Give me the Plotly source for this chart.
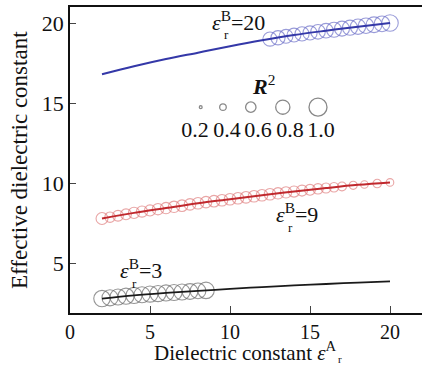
import plotly.graph_objects as go

# ---- data ----
# lines (eps_r^B = 20, 9, 3)
line_x = [2, 4, 6, 8, 10, 12, 14, 16, 18, 20]
blue_line_y = [16.8, 17.3, 17.75, 18.15, 18.55, 18.92, 19.25, 19.52, 19.77, 20.0]
red_line_y = [7.8, 8.15, 8.45, 8.75, 9.0, 9.25, 9.48, 9.7, 9.9, 10.05]
black_line_y = [2.8, 3.0, 3.15, 3.28, 3.4, 3.52, 3.62, 3.71, 3.8, 3.88]

# markers (size encodes R^2)
blue_x = [12.5, 13, 13.5, 14, 14.5, 15, 15.5, 16, 16.5, 17, 17.5, 18, 18.5, 19, 19.5, 20]
blue_y = [19.0, 19.08, 19.17, 19.25, 19.32, 19.38, 19.45, 19.52, 19.58, 19.65, 19.71, 19.77, 19.83, 19.89, 19.95, 20.0]
blue_r2 = [0.80, 0.80, 0.78, 0.78, 0.80, 0.80, 0.82, 0.82, 0.84, 0.84, 0.85, 0.86, 0.87, 0.88, 0.88, 0.92]

red_x = [2, 2.5, 3, 3.5, 4, 4.5, 5, 5.5, 6, 6.5, 7, 7.5, 8, 8.5, 9, 9.5, 10, 10.5, 11, 11.5,
         12, 12.5, 13, 13.5, 14, 14.5, 15, 15.5, 16, 16.5, 17, 17.7, 18.4, 19.2, 20]
red_y = [7.8, 7.88, 7.97, 8.06, 8.15, 8.23, 8.3, 8.38, 8.45, 8.53, 8.6, 8.68, 8.75, 8.82, 8.88, 8.94,
         9.0, 9.06, 9.12, 9.19, 9.25, 9.31, 9.37, 9.43, 9.48, 9.54, 9.59, 9.65, 9.7, 9.75, 9.8,
         9.87, 9.92, 9.98, 10.05]
red_r2 = [0.68, 0.6, 0.62, 0.62, 0.64, 0.64, 0.64, 0.65, 0.65, 0.65, 0.66, 0.66, 0.66, 0.66, 0.66, 0.66,
          0.66, 0.66, 0.66, 0.66, 0.66, 0.66, 0.65, 0.65, 0.64, 0.63, 0.62, 0.6, 0.58, 0.55, 0.52,
          0.48, 0.45, 0.5, 0.45]

black_x = [2, 2.5, 3, 3.5, 4, 4.5, 5, 5.5, 6, 6.5, 7, 7.5, 8, 8.5]
black_y = [2.8, 2.85, 2.9, 2.95, 3.0, 3.04, 3.08, 3.11, 3.15, 3.18, 3.21, 3.24, 3.28, 3.31]
black_r2 = [0.92, 0.9, 0.9, 0.9, 0.9, 0.9, 0.9, 0.9, 0.9, 0.9, 0.9, 0.88, 0.88, 0.92]

legend_r2 = [0.2, 0.4, 0.6, 0.8, 1.0]
legend_labels = ["0.2", "0.4", "0.6", "0.8", "1.0"]
legend_x = [8.17, 9.56, 11.3, 13.3, 15.5]
legend_y = 14.75
legend_label_x = [7.81, 9.81, 11.75, 13.75, 15.69]
legend_label_y = 13.2

x_ticks = [0, 5, 10, 15, 20]
y_ticks = [5, 10, 15, 20]


def sz(r2):
    return [19 * v - 1 for v in r2]


FONT = "Liberation Serif"
TXT = "#111111"
fig = go.Figure()

# markers
fig.add_trace(go.Scatter(x=blue_x, y=blue_y, mode="markers",
                         marker=dict(symbol="circle-open", size=sz(blue_r2), color="#6f72c9",
                                     line=dict(width=1.1)), showlegend=False))
fig.add_trace(go.Scatter(x=red_x, y=red_y, mode="markers",
                         marker=dict(symbol="circle-open", size=sz(red_r2), color="#e08080",
                                     line=dict(width=1.1)), showlegend=False))
fig.add_trace(go.Scatter(x=black_x, y=black_y, mode="markers",
                         marker=dict(symbol="circle-open", size=sz(black_r2), color="#6a6a6a",
                                     line=dict(width=1.1)), showlegend=False))
# lines
fig.add_trace(go.Scatter(x=line_x, y=blue_line_y, mode="lines", line=dict(color="#3438a8", width=2, shape="spline"),
                         showlegend=False))
fig.add_trace(go.Scatter(x=line_x, y=red_line_y, mode="lines", line=dict(color="#c0282d", width=2, shape="spline"),
                         showlegend=False))
fig.add_trace(go.Scatter(x=line_x, y=black_line_y, mode="lines", line=dict(color="#1a1a1a", width=1.8, shape="spline"),
                         showlegend=False))
# size legend
fig.add_trace(go.Scatter(x=legend_x, y=[legend_y] * len(legend_x), mode="markers",
                         marker=dict(symbol="circle-open", size=sz(legend_r2), color="#555555",
                                     line=dict(width=1.3)), showlegend=False))
fig.add_trace(go.Scatter(x=legend_label_x, y=[legend_label_y] * len(legend_label_x), mode="text",
                         text=legend_labels, textfont=dict(family=FONT, size=22, color=TXT),
                         showlegend=False))

ann = []
def label(x, y, txt, size=22, xanchor="left"):
    ann.append(dict(x=x, y=y, xref="paper", yref="paper", text=txt, showarrow=False,
                    xanchor=xanchor, yanchor="middle", font=dict(family=FONT, size=size, color=TXT)))

def px(xp):
    return (xp - 70) / 352.0

def py(yp):
    return (313 - yp) / 306.0

# R^2 header
label(px(263), py(85), "<i><b>R</b></i><sup>2</sup>", size=22, xanchor="center")
# series labels
label(px(210), py(21), "<i>ε</i><sup>B</sup>=20")
label(px(222), py(34), "r", size=13)
label(px(274), py(213), "<i>ε</i><sup>B</sup>=9")
label(px(286), py(227), "r", size=13)
label(px(118), py(269), "<i>ε</i><sup>B</sup>=3")
label(px(130), py(283), "r", size=13)
# axis titles
label(px(152), py(351), "Dielectric constant <i>ε</i><sup>A</sup>", size=21)
label(px(336), py(359), "r", size=11)
ann.append(dict(x=px(19), y=py(160), xref="paper", yref="paper",
                text="Effective dielectric constant", textangle=-90, showarrow=False,
                xanchor="center", yanchor="middle", font=dict(family=FONT, size=23, color=TXT)))

fig.update_layout(
    width=422, height=366,
    margin=dict(l=70, r=0, t=7, b=53),
    plot_bgcolor="white", paper_bgcolor="white",
    annotations=ann,
    xaxis=dict(range=[0, 22], tickvals=x_ticks, ticks="inside", ticklen=7, tickwidth=1.3,
               showline=True, linecolor="#111", linewidth=1.6, mirror=True, showgrid=False,
               zeroline=False, tickfont=dict(family=FONT, size=20, color=TXT)),
    yaxis=dict(range=[1.9, 21.0], tickvals=y_ticks, ticks="inside", ticklen=6, tickwidth=1.3,
               showline=True, linecolor="#111", linewidth=1.6, showgrid=False,
               zeroline=False, tickfont=dict(family=FONT, size=22, color=TXT)),
)
fig.write_html("out.html")
